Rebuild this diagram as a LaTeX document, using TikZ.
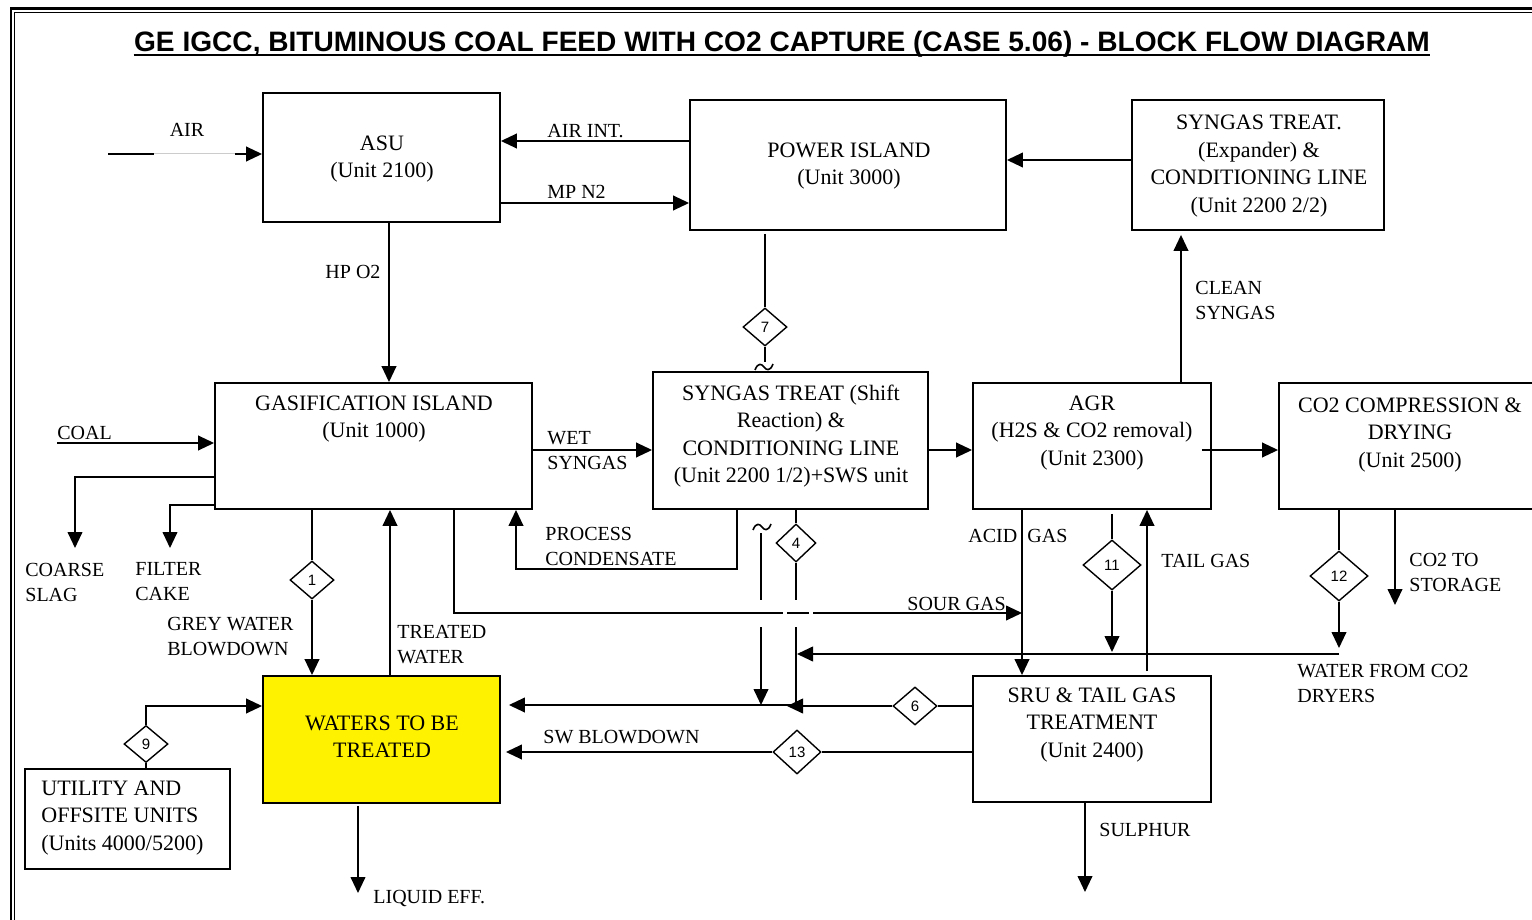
\documentclass[tikz,border=0pt]{standalone}
\usepackage{fontspec}
\setmainfont{Liberation Serif}
\newfontfamily\arial{Liberation Sans}
\usetikzlibrary{arrows.meta,shapes.geometric,fit}
\newcommand\btxtfont{\fontsize{11}{13.7}\selectfont}
\newcommand\labfont{\fontsize{10}{12.5}\selectfont}
\begin{document}
\begin{tikzpicture}[x=0.5pt,y=-0.5pt,
  box/.style={draw, line width=0.95pt, inner sep=0pt},
  ybox/.style={box, fill=yellow},
  dia/.style={diamond, draw, line width=0.7pt, inner sep=0pt, fill=white,
    font=\arial\fontsize{7.5}{9}\selectfont},
  ln/.style={line width=0.75pt},
  flow/.style={ln, -{Triangle[length=8pt,width=7.4pt]}},
  btxt/.style={inner sep=0pt, align=center, font=\btxtfont},
  lab/.style={inner sep=0pt, align=left, anchor=west, font=\labfont},
  tilde/.style={line width=0.8pt},
  tld/.pic={\draw[tilde] (-9,3) .. controls (-6,-5) and (-2,-3) .. (0,0) .. controls (2,3) and (6,5) .. (9,-3);}]
\useasboundingbox (0,0) rectangle (1532,920);
\clip (0,0) rectangle (1532,920);
% frame
\draw[line width=1.4pt] (11,8.7) rectangle (1600,1000);
\draw[line width=0.75pt] (14.5,12.5) rectangle (1600,1000);
% title
\node[inner sep=0pt, anchor=base, font=\arial\bfseries\fontsize{14.05}{17}\selectfont] (title) at (782,52)
  {GE IGCC, BITUMINOUS COAL FEED WITH CO2 CAPTURE (CASE 5.06) - BLOCK FLOW DIAGRAM};
\draw[line width=1.3pt] ([yshift=-1.5pt]title.base west) -- ([yshift=-1.5pt]title.base east);

% boxes
\node[box, fit={(263,93)(500,222)}] (asu) {};
\node[box, fit={(690,100)(1006,230)}] (pow) {};
\node[box, fit={(1132,100)(1384,230)}] (st2) {};
\node[box, fit={(215,383)(532,509)}] (gas) {};
\node[box, fit={(653,372)(928,509)}] (st1) {};
\node[box, fit={(973,383)(1211,509)}] (agr) {};
\node[box, fit={(1279,383)(1543,509)}] (co2) {};
\node[box, fit={(973,676)(1211,802)}] (sru) {};
\node[ybox, fit={(263,676)(500,803)}] (wat) {};
\node[box, fit={(25,769)(230,869)}] (utl) {};

% box texts
\node[btxt] (asuT) at (382,159) {ASU\\(Unit 2100)};
\node[btxt] (powT) at (849,166) {POWER ISLAND\\(Unit 3000)};
\node[btxt] (st2T) at (1259,166) {SYNGAS TREAT.\\(Expander) \&\\CONDITIONING LINE\\(Unit 2200 2/2)};
\node[btxt] (gasT) at (374,419) {GASIFICATION ISLAND\\(Unit 1000)};
\node[btxt] (st1T) at (791,436) {SYNGAS TREAT (Shift\\Reaction) \&\\CONDITIONING LINE\\(Unit 2200 1/2)+SWS unit};
\node[btxt] (agrT) at (1092,433) {AGR\\(H2S \& CO2 removal)\\(Unit 2300)};
\node[btxt] (co2T) at (1410,435) {CO2 COMPRESSION \&\\DRYING\\(Unit 2500)};
\node[btxt] (sruT) at (1092,725) {SRU \& TAIL GAS\\TREATMENT\\(Unit 2400)};
\node[btxt] (watT) at (382,737) {WATERS TO BE\\TREATED};
\node[btxt, align=left, anchor=west] (utlT) at (41,818) {UTILITY AND\\OFFSITE UNITS\\(Units 4000/5200)};

% diamonds
\node[dia, minimum width=22pt, minimum height=19pt] (d7) at (765,327) {7};
\node[dia, minimum width=22pt, minimum height=19pt] (d1) at (312,580) {1};
\node[dia, minimum width=20pt, minimum height=19pt] (d4) at (796,543) {4};
\node[dia, minimum width=22pt, minimum height=19pt] (d6) at (915,706) {6};
\node[dia, minimum width=24pt, minimum height=22pt] (d13) at (797,752) {13};
\node[dia, minimum width=29pt, minimum height=25pt] (d11) at (1112,565) {11};
\node[dia, minimum width=29pt, minimum height=25pt] (d12) at (1339,576) {12};
\node[dia, minimum width=22pt, minimum height=18.5pt] (d9) at (146,744) {9};

% free ends
\coordinate (airS) at (108,154);
\coordinate (coalS) at (57,443);
\coordinate (slagE) at (75,548);
\coordinate (cakeE) at (170,548);
\coordinate (sourE) at (1022,613);
\coordinate (storE) at (1395,605);
\coordinate (wfrom) at (1339,654);
\coordinate (wto) at (797,654);
\coordinate (sulE) at (1085,892);
\coordinate (liqE) at (358,893);

% AIR
\draw[ln] (airS) -- (154,154);
\draw[line width=0.5pt, black!20] (154,154) -- (235,154);
\draw[flow] (235,154) -- (asu.west |- airS);
\node[lab, anchor=center] (airL) at (187,130) {AIR};
% AIR INT / MP N2
\draw[flow] (pow.west |- 0,141) -- (asu.east |- 0,141);
\node[lab] (airintL) at (547,131.5) {AIR INT.};
\draw[flow] (asu.east |- 0,203) -- (pow.west |- 0,203);
\node[lab] (mpn2L) at (547,192) {MP N2};
% HP O2
\draw[flow] (asu.south -| 389,0) -- (gas.north -| 389,0);
\node[lab, anchor=center] (hpo2L) at (353,272) {HP O2};
% expander -> power island
\draw[flow] (st2.west |- 0,160) -- (pow.east |- 0,160);
% clean syngas
\draw[flow, shorten >=2pt] (agr.north -| 1181,0) -- (st2.south -| 1181,0);
\node[lab] (cleanL) at (1195,300) {CLEAN\\SYNGAS};
% power island -> 7
\draw[ln, shorten <=1.5pt] (pow.south -| d7.north) -- (d7.north);
\draw[ln] (d7.south) -- (d7.south |- 0,362);
\pic at (764,367) {tld};
% coal
\draw[flow] (coalS) -- (gas.west |- coalS);
\node[lab] (coalL) at (57,433) {COAL};
% slag, cake
\draw[flow] (gas.west |- 0,477) -| (slagE);
\node[lab] (slagL) at (25,582) {COARSE\\SLAG};
\draw[flow] (gas.west |- 0,505) -| (cakeE);
\node[lab] (cakeL) at (135,582) {FILTER\\CAKE};
% grey water
\draw[ln] (gas.south -| d1.north) -- (d1.north);
\draw[flow] (d1.south) -- (wat.north -| d1.south);
\node[lab] (greyL) at (167,637) {GREY WATER\\BLOWDOWN};
% treated water
\draw[flow] (wat.north -| 390,0) -- (gas.south -| 390,0);
\node[lab] (treatL) at (397,645) {TREATED\\WATER};
% sour gas
\draw[flow] (gas.south -| 454,0) |- (sourE);
\fill[white] (783,610) rectangle (787,616);
\fill[white] (809,610) rectangle (813,616);
\node[lab] (sourL) at (907,604) {SOUR GAS};
% wet syngas
\draw[flow] (gas.east |- 0,450) -- (st1.west |- 0,450);
\node[lab] (wetL) at (547,451) {WET\\SYNGAS};
% process condensate
\draw[flow] (st1.south -| 737,0) |- (516,569) -- (gas.south -| 516,0);
\node[lab] (condL) at (545,546) {PROCESS\\CONDENSATE};
% shift -> AGR -> CO2
\draw[flow] (st1.east |- 0,450) -- (agr.west |- 0,450);
\draw[flow, shorten <=-5pt] (agr.east |- 0,450) -- (co2.west |- 0,450);
% acid gas
\draw[flow] (agr.south -| sourE) -- (sru.north -| sourE);
\node[lab] (acidL) at (968,536) {ACID};
\node[lab] (acidL2) at (1027,536) {GAS};
% 11
\draw[ln, shorten <=2pt] (agr.south -| d11.north) -- (d11.north);
\draw[flow] (d11.south) -- (d11.south |- 0,652);
% tail gas
\draw[flow, shorten <=2pt] (sru.north -| 1147,0) -- (agr.south -| 1147,0);
\node[lab] (tailL) at (1161,561) {TAIL GAS};
% 12
\draw[ln] (co2.south -| d12.north) -- (d12.north);
\draw[flow] (d12.south) -- (d12.south |- 0,648);
% CO2 to storage
\draw[flow] (co2.south -| storE) -- (storE);
\node[lab] (storL) at (1409,572) {CO2 TO\\STORAGE};
% water from CO2 dryers
\draw[flow] (wfrom) -- (wto);
\node[lab] (dryL) at (1297,683) {WATER FROM CO2\\DRYERS};
% left vertical (from 7, continued)
\pic at (762,527) {tld};
\draw[ln] (761,533) -- (761,600);
\draw[flow] (761,627) -- (761,705);
% right vertical via 4
\draw[ln] (st1.south -| d4.north) -- (d4.north);
\draw[ln] (d4.south) -- (d4.south |- 0,600);
\draw[ln] (d4.south |- 0,627) -- (d4.south |- 0,706);
% 6
\draw[ln] (sru.west |- d6.east) -- (d6.east);
\draw[flow] (d6.west) -- (787,706);
\draw[flow, shorten >=4pt] (797,705) -- (wat.east |- 0,705);
% SW blowdown 13
\draw[ln] (sru.west |- d13.east) -- (d13.east);
\draw[flow, shorten >=2.5pt] (d13.west) -- (wat.east |- d13.west);
\node[lab] (swL) at (543,737) {SW BLOWDOWN};
% sulphur
\draw[flow] (sru.south -| sulE) -- (sulE);
\node[lab] (sulL) at (1099,830) {SULPHUR};
% liquid eff
\draw[flow, shorten <=1pt] (wat.south -| liqE) -- (liqE);
\node[lab] (liqL) at (373,898) {LIQUID EFF.};
% 9
\draw[ln] (utl.north -| d9.south) -- (d9.south);
\draw[flow] (d9.north) |- (wat.west |- 0,706);
\end{tikzpicture}
\end{document}
